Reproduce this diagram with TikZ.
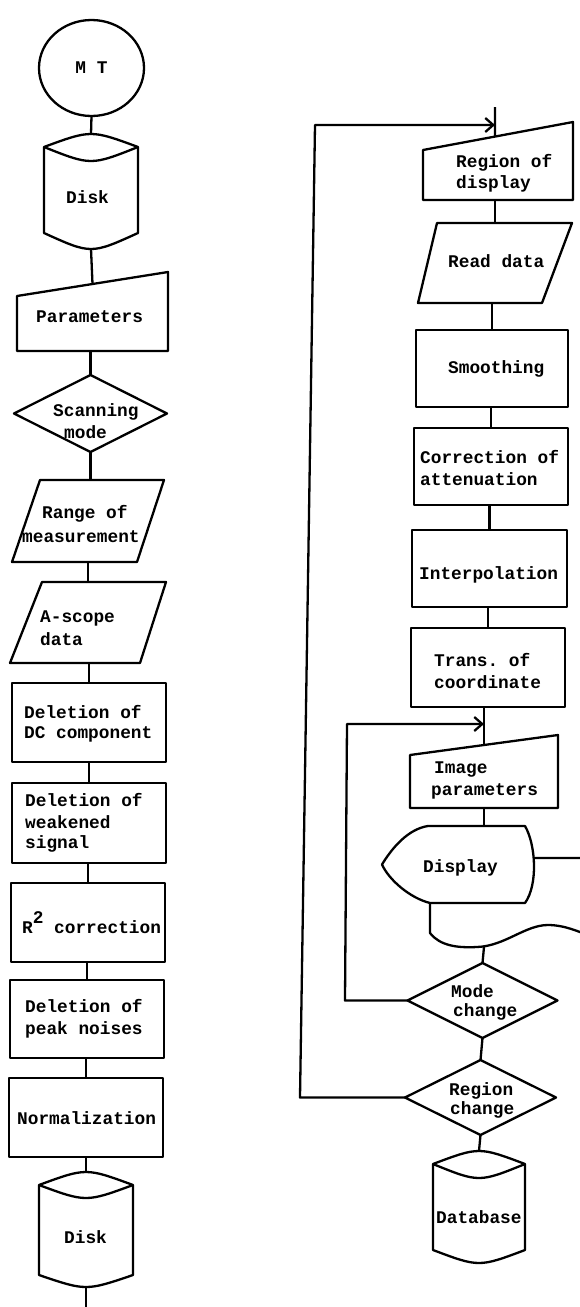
\documentclass[tikz,border=0pt]{standalone}
\usepackage{fontspec}
\setmonofont{Liberation Mono}
\usetikzlibrary{arrows.meta,calc,shapes.geometric}
\newcommand\flowfont{\ttfamily\bfseries\fontsize{17.8}{21}\selectfont}
\newcommand\cylpath[4]{%
  \draw[fill=white] ($(#1.north west)+(0,#2)$) .. controls ($(#1.north)+(0,-#2/3)$) .. ($(#1.north east)+(0,#2)$)
    -- ($(#1.south east)+(0,-#4)$) .. controls ($(#1.south)+(0,#4/3)$) .. ($(#1.south west)+(0,-#4)$) -- cycle;
  \draw ($(#1.north west)+(0,#2)$) .. controls ($(#1.north)+(0,#2+4*#3/3)$) .. ($(#1.north east)+(0,#2)$);
}
\begin{document}
\begin{tikzpicture}[x=1pt,y=-1pt,line width=2.3pt,line join=round,
  lbl/.style={anchor=base west,inner sep=0pt,font=\flowfont},
  shp/.style={inner sep=0pt,outer sep=0pt},
  box/.style={draw,fill=white,inner sep=0pt,outer sep=0pt},
  arr/.style={-{Straight Barb[length=8pt,width=14pt]}}]
\useasboundingbox (0,0) rectangle (580,1307);

% ---------- left column ----------
\node[draw,ellipse,shp,minimum width=105pt,minimum height=96pt,font=\flowfont] (mt) at (91.5,68) {M T};
\node[shp,minimum width=94pt,minimum height=115pt] (dk1) at (91,191.5) {};
\node[shp,minimum width=151pt,minimum height=79pt] (par) at (92.5,311.5) {};
\node[shp,minimum width=153pt,minimum height=77pt] (scm) at (90.5,413.5) {};
\node[shp,minimum width=152pt,minimum height=82pt] (rng) at (88,521) {};
\node[shp,minimum width=156pt,minimum height=81pt] (asc) at (88,622.5) {};
\node[box,minimum width=154pt,minimum height=79pt] (dc) at (89,722.5) {};
\node[box,minimum width=154pt,minimum height=80pt] (wk) at (89,823) {};
\node[box,minimum width=154pt,minimum height=79pt] (r2) at (88,922.5) {};
\node[box,minimum width=154pt,minimum height=78pt] (pk) at (87,1019) {};
\node[box,minimum width=154pt,minimum height=79pt] (nm) at (86,1117.5) {};
\node[shp,minimum width=94pt,minimum height=115pt] (dk2) at (86,1229.5) {};
\coordinate (out) at (86,1307);

\cylpath{dk1}{13}{14}{16}
\draw (par.north east) -- (par.south east) -- (par.south west) -- ($(par.north west)+(0,24)$) -- cycle;
\draw (scm.north) -- (scm.east) -- (scm.south) -- (scm.west) -- cycle;
\draw ($(rng.north west)+(28,0)$) -- (rng.north east) -- ($(rng.south east)+(-27,0)$) -- (rng.south west) -- cycle;
\draw ($(asc.north west)+(32,0)$) -- (asc.north east) -- ($(asc.south east)+(-26,0)$) -- (asc.south west) -- cycle;
\cylpath{dk2}{13}{13}{12}

\draw (mt.south) -- (dk1.north);
\draw (dk1.south) -- ($(par.north)+(0,12)$);
\draw (scm.north |- par.south) -- (scm.north);
\draw (scm.south) -- (scm.south |- rng.north);
\draw (rng.south) -- (asc.north);
\draw (dc.north |- asc.south) -- (dc.north);
\draw (wk.north |- dc.south) -- (wk.north);
\draw (r2.north |- wk.south) -- (r2.north);
\draw (pk.north |- r2.south) -- (pk.north);
\draw (nm.north |- pk.south) -- (nm.north);
\draw (nm.south) -- (dk2.north);
\draw (dk2.south) -- (out);

\node[lbl] (t-dk1) at (65,203) {Disk};
\node[lbl] (t-par) at (35,322) {Parameters};
\node[lbl] (t-scm1) at (52,416) {Scanning};
\node[lbl] (t-scm2) at (63,438) {mode};
\node[lbl] (t-rng1) at (41,518) {Range of};
\node[lbl] (t-rng2) at (21,542) {measurement};
\node[lbl] (t-asc1) at (39,622) {A-scope};
\node[lbl] (t-asc2) at (39,645) {data};
\node[lbl] (t-dc1) at (23,718) {Deletion of};
\node[lbl] (t-dc2) at (23,738) {DC component};
\node[lbl] (t-wk1) at (24,806) {Deletion of};
\node[lbl] (t-wk2) at (24,828) {weakened};
\node[lbl] (t-wk3) at (24,848) {signal};
\node[lbl] (t-r2) at (21,933) {R\raisebox{10pt}{2} correction};
\node[lbl] (t-pk1) at (24,1012) {Deletion of};
\node[lbl] (t-pk2) at (24,1034) {peak noises};
\node[lbl] (t-nm) at (16,1124) {Normalization};
\node[lbl] (t-dk2) at (63,1243) {Disk};

% ---------- right column ----------
\node[shp,minimum width=150pt,minimum height=78pt] (rod) at (498,161) {};
\node[shp,minimum width=154pt,minimum height=80pt] (rd) at (495,263) {};
\node[box,minimum width=152pt,minimum height=77pt] (sm) at (492,368.5) {};
\node[box,minimum width=154pt,minimum height=77pt] (ca) at (491,466.5) {};
\node[box,minimum width=155pt,minimum height=77pt] (ip) at (489.5,568.5) {};
\node[box,minimum width=154pt,minimum height=79pt] (tc) at (488,667.5) {};
\node[shp,minimum width=148pt,minimum height=73pt] (imp) at (484,771.5) {};
\node[shp,minimum width=200pt,minimum height=89pt] (doc) at (530,902.5) {};
\node[shp,minimum width=153pt,minimum height=77pt] (dsp) at (458.5,864.5) {};
\node[shp,minimum width=150pt,minimum height=75pt] (mch) at (482.5,1000.5) {};
\node[shp,minimum width=151pt,minimum height=75pt] (rch) at (480.5,1097.5) {};
\node[shp,minimum width=92pt,minimum height=112pt] (db) at (479,1207) {};
\coordinate (in) at (495,107);
\coordinate (rodtl) at ($(rod.north west)+(0,28)$);

\draw (rod.north east) -- (rod.south east) -- (rod.south west) -- (rodtl) -- cycle;
\draw ($(rd.north west)+(19,0)$) -- (rd.north east) -- ($(rd.south east)+(-30,0)$) -- (rd.south west) -- cycle;
\draw (imp.north east) -- (imp.south east) -- (imp.south west) -- ($(imp.north west)+(0,20)$) -- cycle;
\draw (doc.north east) -- (doc.north west) -- (430,933) .. controls (440,946) and (458,948) .. (477,947)
  .. controls (505,946) and (525,925) .. (548,925) .. controls (565,925) and (580,932) .. (600,940);
\draw[fill=white] (dsp.west) .. controls (392,848) and (408,829) .. (428,826) -- (525,826)
  .. controls (536,845) and (538,885) .. (525,903) -- (430,903) .. controls (410,898) and (389,880) .. (dsp.west) -- cycle;
\draw (mch.north) -- (mch.east) -- (mch.south) -- (mch.west) -- cycle;
\draw (rch.north) -- (rch.east) -- (rch.south) -- (rch.west) -- cycle;
\cylpath{db}{13}{14}{13}

\draw (in) -- ($(rodtl)!0.48!(rod.north east)$);
\draw (rd.north |- rod.south) -- (rd.north);
\draw (sm.north |- rd.south) -- (sm.north);
\draw (ca.north |- sm.south) -- (ca.north);
\draw (ip.north |- ca.south) -- (ip.north);
\draw (tc.north |- ip.south) -- (tc.north);
\draw (tc.south -| imp.north) -- ($(imp.north)+(0,10)$);
\draw (imp.south) -- (imp.south |- dsp.north);
\draw (imp.south |- doc.south) -- (mch.north);
\draw (mch.south) -- (rch.north);
\draw (rch.south) -- (db.north);

\coordinate (lb) at (300,1097.5);
\coordinate (lt) at (315,125);
\draw[arr] (rch.west) -- (lb) -- (lt) -- (lt -| in);
\coordinate (mb) at (345,1000.5);
\coordinate (mtp) at (347,724);
\draw[arr] (mch.west) -- (mb) -- (mtp) -- (mtp -| imp.north);

\node[lbl] (t-rod1) at (455,167) {Region of};
\node[lbl] (t-rod2) at (455,188) {display};
\node[lbl] (t-rd) at (447,267) {Read data};
\node[lbl] (t-sm) at (447,373) {Smoothing};
\node[lbl] (t-ca1) at (419,463) {Correction of};
\node[lbl] (t-ca2) at (419,485) {attenuation};
\node[lbl] (t-ip) at (418,579) {Interpolation};
\node[lbl] (t-tc1) at (433,666) {Trans. of};
\node[lbl] (t-tc2) at (433,688) {coordinate};
\node[lbl] (t-imp1) at (433,773) {Image};
\node[lbl] (t-imp2) at (430,795) {parameters};
\node[lbl] (t-dsp) at (422,872) {Display};
\node[lbl] (t-mch1) at (450,997) {Mode};
\node[lbl] (t-mch2) at (452,1016) {change};
\node[lbl] (t-rch1) at (448,1095) {Region};
\node[lbl] (t-rch2) at (449,1114) {change};
\node[lbl] (t-db) at (435,1223) {Database};
\end{tikzpicture}
\end{document}
